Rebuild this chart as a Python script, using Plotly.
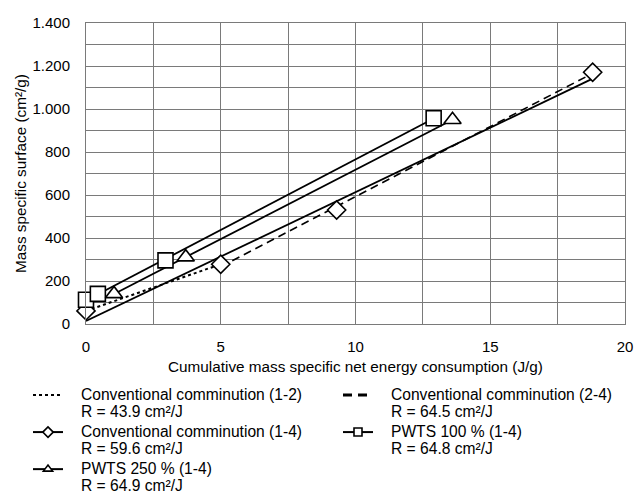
import numpy as np
import plotly.graph_objects as go

# ---- data ----
conv_x = [0.0, 5.0, 9.3, 18.8]          # Conventional comminution, stages 1-4
conv_y = [61, 278, 530, 1171]
pwts100_x = [0.0, 0.44, 2.95, 12.9]     # PWTS 100 %
pwts100_y = [113, 140, 296, 957]
pwts250_x = [1.04, 3.70, 13.6]          # PWTS 250 %
pwts250_y = [140, 311, 950]

series_names = [
    "Conventional comminution (1-2)",
    "Conventional comminution (2-4)",
    "Conventional comminution (1-4)",
    "PWTS 100 % (1-4)",
    "PWTS 250 % (1-4)",
]
r_labels = [
    "R = 43.9 cm²/J",
    "R = 64.5 cm²/J",
    "R = 59.6 cm²/J",
    "R = 64.8 cm²/J",
    "R = 64.9 cm²/J",
]

x_title = "Cumulative mass specific net energy consumption (J/g)"
y_title = "Mass specific surface (cm²/g)"

FONT = "Liberation Sans, Arial, sans-serif"
BLACK = "#000000"
GRID = "#7a7a7a"


def fit(xs, ys):
    k, d = np.polyfit(xs, ys, 1)
    xr = np.array([min(xs), max(xs)])
    return xr, k * xr + d


def big(s):
    return "<span style='font-size:15.6px'>\u00a0\u00a0\u00a0" + s + "</span>"


fig = go.Figure()

# regression lines
fx, fy = fit(conv_x[0:2], conv_y[0:2])
fig.add_trace(go.Scatter(x=fx, y=fy, mode="lines", showlegend=False,
                         line=dict(color=BLACK, width=2, dash="dot")))
fx, fy = fit(conv_x[1:4], conv_y[1:4])
fig.add_trace(go.Scatter(x=fx, y=fy, mode="lines", showlegend=False,
                         line=dict(color=BLACK, width=1.6, dash="8px,5px")))
fx, fy = fit(conv_x, conv_y)
fig.add_trace(go.Scatter(x=fx, y=fy, mode="lines", showlegend=False,
                         line=dict(color=BLACK, width=1.8)))
fx, fy = fit(pwts100_x, pwts100_y)
fig.add_trace(go.Scatter(x=fx, y=fy, mode="lines", showlegend=False,
                         line=dict(color=BLACK, width=1.8)))
fx, fy = fit(pwts250_x, pwts250_y)
fig.add_trace(go.Scatter(x=fx, y=fy, mode="lines", showlegend=False,
                         line=dict(color=BLACK, width=1.8)))

# data points
mk = dict(color="white", line=dict(color=BLACK, width=1.6))
fig.add_trace(go.Scatter(x=conv_x, y=conv_y, mode="markers", showlegend=False,
                         cliponaxis=False,
                         marker=dict(symbol="diamond", size=14, **mk)))
fig.add_trace(go.Scatter(x=pwts100_x, y=pwts100_y, mode="markers", showlegend=False,
                         cliponaxis=False,
                         marker=dict(symbol="square", size=15, **mk)))
fig.add_trace(go.Scatter(x=pwts250_x, y=pwts250_y, mode="markers", showlegend=False,
                         cliponaxis=False,
                         marker=dict(symbol="triangle-up", size=15, **mk)))

# legend entries
leg_styles = [
    dict(mode="lines", line=dict(color=BLACK, width=2, dash="dot")),
    dict(mode="lines", line=dict(color=BLACK, width=3, dash="9px,6px")),
    dict(mode="lines+markers", line=dict(color=BLACK, width=2),
         marker=dict(symbol="diamond", size=8, color="white", line=dict(color=BLACK, width=1.6))),
    dict(mode="lines+markers", line=dict(color=BLACK, width=2),
         marker=dict(symbol="square", size=8, color="white", line=dict(color=BLACK, width=1.6))),
    dict(mode="lines+markers", line=dict(color=BLACK, width=2),
         marker=dict(symbol="triangle-up", size=8, color="white", line=dict(color=BLACK, width=1.6))),
]
for name, rl, st in zip(series_names, r_labels, leg_styles):
    fig.add_trace(go.Scatter(x=[None], y=[None], name=big(name) + "<br>" + big(rl),
                             showlegend=True, **st))

fig.update_layout(
    width=635, height=494,
    margin=dict(l=86, r=10, t=23, b=170, autoexpand=False),
    paper_bgcolor="white", plot_bgcolor="white",
    font=dict(family=FONT, size=15, color=BLACK),
    separators=",.",
    legend=dict(orientation="h", x=(28 - 86) / 539, xanchor="left",
                y=(324 - 380) / 301, yanchor="top",
                font=dict(size=13.1, family=FONT, color=BLACK),
                entrywidth=265, valign="top", itemwidth=30,
                bgcolor="rgba(0,0,0,0)", tracegroupgap=0),
)
fig.update_xaxes(range=[0, 20], dtick=5, tick0=0,
                 showline=True, linecolor=GRID, linewidth=1, mirror=True,
                 showgrid=True, gridcolor=GRID, gridwidth=1, zeroline=False,
                 minor=dict(dtick=2.5, showgrid=True, gridcolor=GRID, gridwidth=1),
                 ticks="", ticklabelstandoff=9,
                 title=dict(text=x_title, standoff=7, font=dict(size=15.3)))
fig.update_yaxes(range=[0, 1400], dtick=200, tick0=0, tickformat=",d",
                 showline=True, linecolor=GRID, linewidth=1, mirror=True,
                 showgrid=True, gridcolor=GRID, gridwidth=1, zeroline=False,
                 minor=dict(dtick=100, showgrid=True, gridcolor=GRID, gridwidth=1),
                 ticks="", ticklabelstandoff=12,
                 title=dict(text=y_title, standoff=2, font=dict(size=15.3)))

fig.write_html("out.html")
